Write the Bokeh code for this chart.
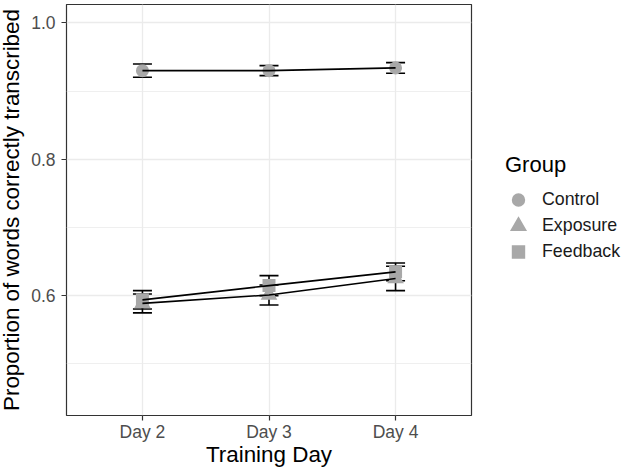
from bokeh.plotting import figure
from bokeh.models import (ColumnDataSource, Whisker, TeeHead, FixedTicker,
                          PrintfTickFormatter, Legend, LegendItem, Range1d)
from bokeh.embed import file_html
from bokeh.resources import INLINE

# ---- data ----
days = ["Day 2", "Day 3", "Day 4"]
day_numbers = [2, 3, 4]
groups = ["Control", "Exposure", "Feedback"]
control_mean = [0.930, 0.930, 0.934]
control_se = [0.0098, 0.0073, 0.0078]
exposure_mean = [0.5886, 0.6010, 0.6252]
exposure_se = [0.0139, 0.0147, 0.0178]
feedback_mean = [0.5938, 0.6147, 0.6349]
feedback_se = [0.0135, 0.0147, 0.0130]
y_ticks = [0.6, 0.8, 1.0]
y_minor = [0.5, 0.7, 0.9]

FONT = "Liberation Sans"
GREY = "#A8A8A8"

p = figure(frame_width=405, frame_height=411,
           min_border_left=70, min_border_right=150,
           min_border_top=0, min_border_bottom=40,
           x_range=Range1d(1.4, 4.6), y_range=Range1d(0.4242, 1.027),
           output_backend="svg", toolbar_location=None)
p.margin = (4, 0, 0, -4)
p.background_fill_color = "white"
p.border_fill_color = "white"
p.outline_line_color = "#333333"
p.outline_line_width = 1.2

markers = ["circle", "triangle", "square"]
series = [(control_mean, control_se),
          (exposure_mean, exposure_se),
          (feedback_mean, feedback_se)]

point_renderers = []
for (mean, se), marker in zip(series, markers):
    src = ColumnDataSource(dict(
        x=day_numbers, y=mean,
        upper=[m + s for m, s in zip(mean, se)],
        lower=[m - s for m, s in zip(mean, se)]))
    r = p.scatter("x", "y", source=src, marker=marker, size=8,
                  fill_color=GREY, line_color=GREY, line_width=5,
                  line_join="miter")
    point_renderers.append(r)
    w = Whisker(base="x", upper="upper", lower="lower", source=src,
                line_color="black", line_width=1.6,
                upper_head=TeeHead(size=19, line_color="black", line_width=1.6),
                lower_head=TeeHead(size=19, line_color="black", line_width=1.6))
    p.add_layout(w)

for mean, se in series:
    p.line(day_numbers, mean, line_color="black", line_width=1.6)

# axes
p.xaxis.ticker = FixedTicker(ticks=day_numbers)
p.xaxis.major_label_overrides = {d: lab for d, lab in zip(day_numbers, days)}
p.yaxis.ticker = FixedTicker(ticks=y_ticks, minor_ticks=y_minor)
p.yaxis.formatter = PrintfTickFormatter(format="%.1f")
p.xaxis.axis_label = "Training Day"
p.yaxis.axis_label = "Proportion of words correctly transcribed"
for ax in (p.xaxis, p.yaxis):
    ax.axis_line_color = None
    ax.major_tick_line_color = "#333333"
    ax.major_tick_line_width = 1.2
    ax.major_tick_out = 5
    ax.major_tick_in = 0
    ax.minor_tick_line_color = None
    ax.major_label_text_font = FONT
    ax.major_label_text_font_size = "17.5px"
    ax.major_label_text_color = "#4D4D4D"
    ax.axis_label_text_font = FONT
    ax.axis_label_text_font_size = "22.4px"
    ax.axis_label_text_font_style = "normal"
    ax.axis_label_text_color = "black"
p.xaxis.major_label_standoff = 1
p.xaxis.axis_label_standoff = -3
p.yaxis.major_label_standoff = 6
p.yaxis.axis_label_standoff = 4

p.xgrid.ticker = FixedTicker(ticks=day_numbers)
p.xgrid.grid_line_color = "#EBEBEB"
p.xgrid.grid_line_width = 1.3
p.ygrid.grid_line_color = "#EBEBEB"
p.ygrid.grid_line_width = 1.3
p.ygrid.minor_grid_line_color = "#EBEBEB"
p.ygrid.minor_grid_line_width = 0.8

legend = Legend(items=[LegendItem(label=g, renderers=[r])
                       for g, r in zip(groups, point_renderers)],
                location=(34, 153), title="Group",
                title_text_font=FONT, title_text_font_size="22px",
                title_text_font_style="normal", title_text_color="black",
                title_standoff=11,
                label_text_font=FONT, label_text_font_size="17.8px",
                label_text_color="#1A1A1A",
                glyph_width=26, glyph_height=21, label_height=21,
                spacing=5, label_standoff=11, padding=0, margin=0,
                border_line_color=None, background_fill_alpha=0)
p.add_layout(legend, "right")

open("out.html", "w").write(file_html(p, INLINE))
